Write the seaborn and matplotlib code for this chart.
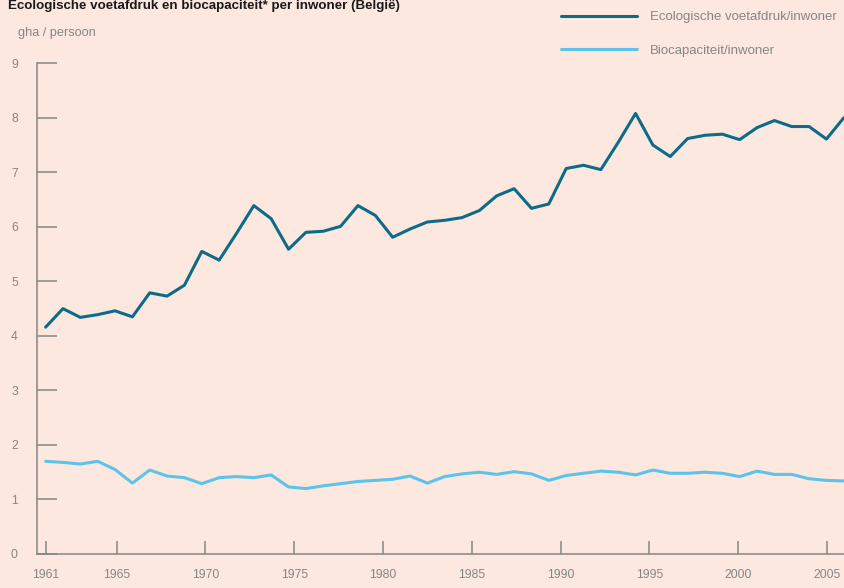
"""
Ecologische voetafdruk en biocapaciteit per inwoner (Belgie), 1961-2007
"""

import pandas as pd
import matplotlib.pyplot as plt
import seaborn as sns

sns.set_style("ticks")
plt.rcParams['font.family'] = ['Liberation Sans', 'DejaVu Sans']

# Data (gha / persoon)
years = list(range(1961, 2008))
footprint = [4.16, 4.50, 4.34, 4.39, 4.46, 4.35, 4.79, 4.73, 4.93, 5.55,
             5.39, 5.88, 6.39, 6.15, 5.59, 5.90, 5.92, 6.01, 6.39, 6.21,
             5.81, 5.96, 6.09, 6.12, 6.17, 6.30, 6.57, 6.70, 6.34, 6.42,
             7.07, 7.13, 7.05, 7.55, 8.08, 7.50, 7.29, 7.62, 7.68, 7.70,
             7.60, 7.82, 7.95, 7.84, 7.84, 7.61, 8.00]
biocap = [1.70, 1.68, 1.65, 1.70, 1.55, 1.30, 1.54, 1.43, 1.40, 1.29,
          1.40, 1.42, 1.40, 1.45, 1.23, 1.20, 1.25, 1.29, 1.33, 1.35,
          1.37, 1.43, 1.30, 1.42, 1.47, 1.50, 1.46, 1.51, 1.47, 1.35,
          1.44, 1.48, 1.52, 1.50, 1.45, 1.54, 1.48, 1.48, 1.50, 1.48,
          1.42, 1.52, 1.46, 1.46, 1.38, 1.35, 1.34]

series_names = ['Ecologische voetafdruk/inwoner', 'Biocapaciteit/inwoner']
tick_years = [1961, 1965, 1970, 1975, 1980, 1985, 1990, 1995, 2000, 2005]
y_ticks = list(range(0, 10))

df = pd.DataFrame({
    'jaar': years * 2,
    'waarde': footprint + biocap,
    'serie': [series_names[0]] * len(years) + [series_names[1]] * len(years),
})

bg = '#fce8de'
grey = '#868686'
palette = {series_names[0]: '#0c6b89', series_names[1]: '#5dc3ea'}

fig = plt.figure(figsize=(8.45, 5.88), dpi=100, facecolor=bg)
ax = fig.add_axes([37.3 / 845, 34 / 588, 1 - 37.3 / 845, (554 - 63.3) / 588])
ax.set_facecolor(bg)

sns.lineplot(data=df, x='jaar', y='waarde', hue='serie', palette=palette,
             linewidth=2.2, ax=ax)

ax.set_xlim(1960.52, 2007.07)
ax.set_ylim(0, 9)

# year ticks in the original run on a slightly wider spacing than the data
ax.set_xticks([1961 + (y - 1961) * 1.0235 for y in tick_years])
ax.set_xticklabels([str(y) for y in tick_years])
ax.set_yticks(y_ticks)

for side in ['top', 'right']:
    ax.spines[side].set_visible(False)
for side in ['left', 'bottom']:
    ax.spines[side].set_color(grey)
    ax.spines[side].set_linewidth(1.1)

ax.tick_params(axis='y', direction='in', length=14.5, width=1.1, color=grey,
               labelcolor=grey, labelsize=8.8, pad=14)
ax.tick_params(axis='x', direction='in', length=9.5, width=1.1, color=grey,
               labelcolor=grey, labelsize=8.8, pad=11)
ax.set_xlabel('')
ax.set_ylabel('')
ax.grid(False)

handles, labels = ax.get_legend_handles_labels()
for h in handles:
    h.set_linewidth(2.2)
ax.legend(handles, labels, loc='upper left', bbox_to_anchor=(561 / 845, 1 - 11 / 588),
          bbox_transform=fig.transFigure, frameon=False, borderpad=0,
          borderaxespad=0, handlelength=5.75, handletextpad=1.0,
          labelspacing=1.63, fontsize=9.5, labelcolor=grey)

fig.text(8 / 845, 1 - 9 / 588, 'Ecologische voetafdruk en biocapaciteit* per inwoner (België)',
         fontsize=9.6, fontweight='bold', color='#1a1a1a', va='baseline', ha='left')
fig.text(18 / 845, 1 - 33 / 588, 'gha / persoon', fontsize=9.2, color=grey,
         va='center', ha='left')

plt.savefig('out.png', dpi=100, facecolor=bg)
plt.close()
